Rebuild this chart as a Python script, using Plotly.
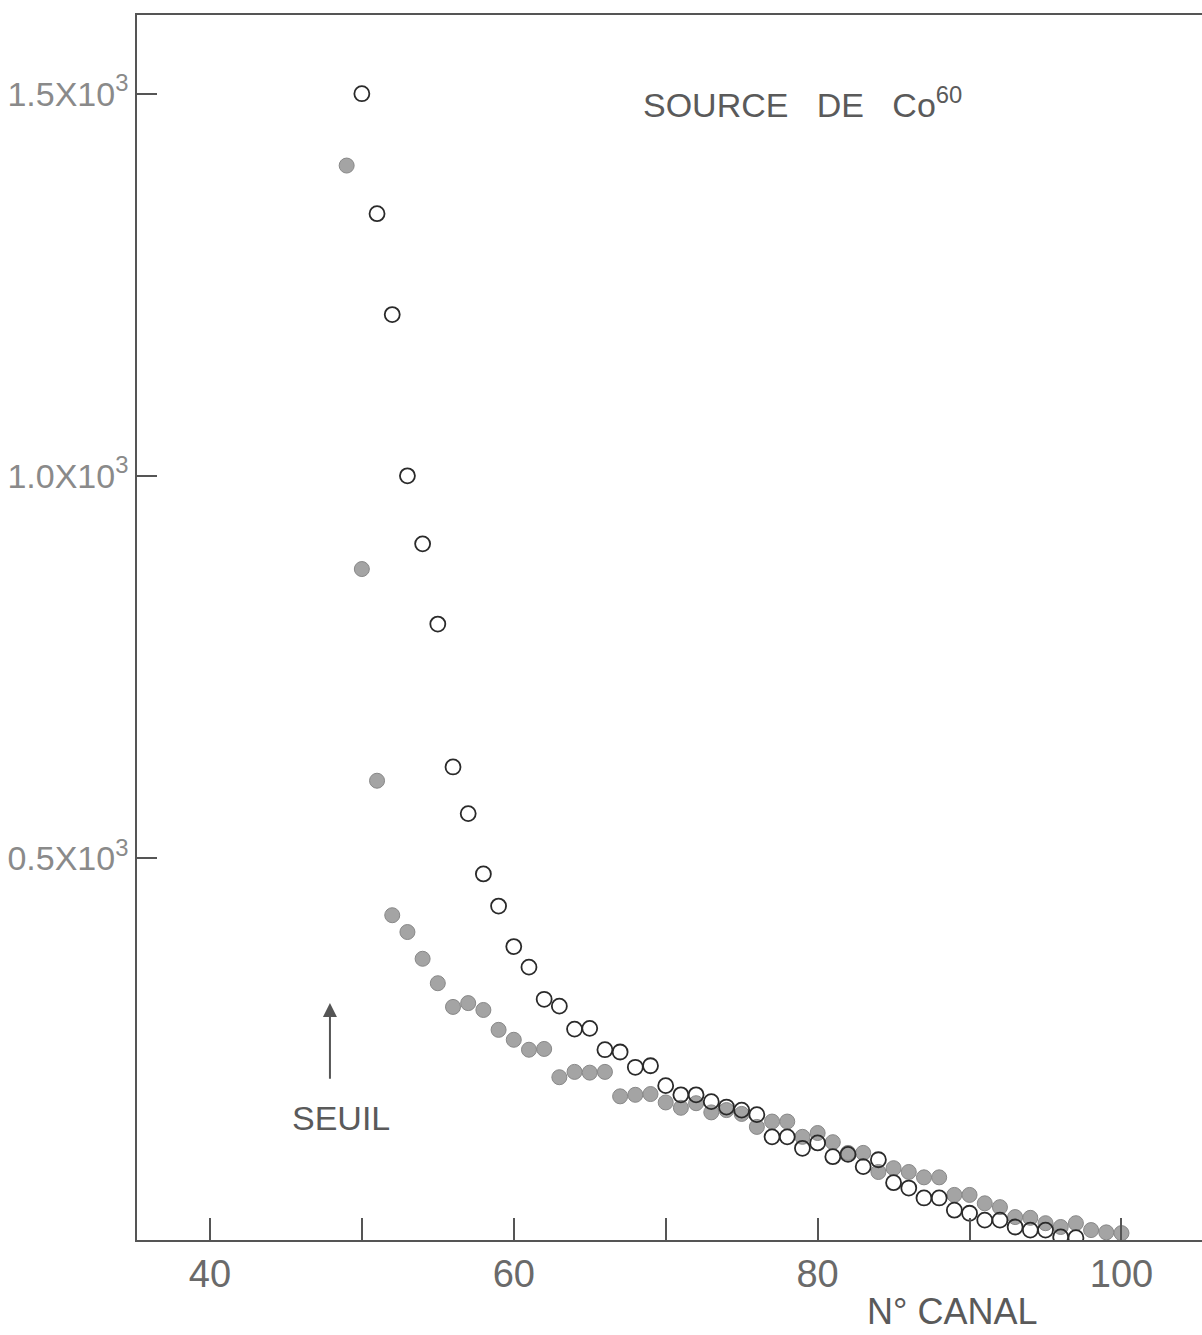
import plotly.graph_objects as go

# Open circles series
open_x = [50, 51, 52, 53, 54, 55, 56, 57, 58, 59, 60, 61, 62, 63, 64, 65, 66, 67, 68, 69,
          70, 71, 72, 73, 74, 75, 76, 77, 78, 79, 80, 81, 82, 83, 84, 85, 86, 87, 88, 89,
          90, 91, 92, 93, 94, 95, 96, 97]
open_y = [1500, 1343, 1211, 1000, 911, 806, 619, 558, 479, 437, 384, 357, 315, 306, 276, 277, 249, 246, 226, 228,
          202, 190, 190, 181, 174, 170, 164, 135, 135, 120, 127, 109, 112, 96, 105, 75, 68, 55, 55, 39,
          35, 26, 26, 17, 13, 13, 4, 3]

# Filled (grey) circles series
fill_x = [49, 50, 51, 52, 53, 54, 55, 56, 57, 58, 59, 60, 61, 62, 63, 64, 65, 66, 67, 68,
          69, 70, 71, 72, 73, 74, 75, 76, 77, 78, 79, 80, 81, 82, 83, 84, 85, 86, 87, 88,
          89, 90, 91, 92, 93, 94, 95, 96, 97, 98, 99, 100]
fill_y = [1406, 878, 601, 425, 403, 368, 336, 305, 310, 301, 275, 262, 249, 250, 213, 220, 219, 220, 188, 190,
          191, 180, 173, 179, 167, 170, 165, 148, 155, 155, 135, 140, 128, 114, 114, 89, 94, 89, 82, 82,
          59, 59, 48, 43, 30, 29, 22, 17, 22, 13, 10, 9]

x_tickvals = [40, 50, 60, 70, 80, 90, 100]
x_ticktext = ["40", "", "60", "", "80", "", "100"]
y_tickvals = [500, 1000, 1500]
y_ticktext = ["0.5X10<sup>3</sup>", "1.0X10<sup>3</sup>", "1.5X10<sup>3</sup>"]

font_family = "Liberation Sans"
text_col = "#6a6a6a"
axis_col = "#555555"

fig = go.Figure()
fig.add_trace(go.Scatter(
    x=fill_x, y=fill_y, mode="markers",
    marker=dict(size=15, color="#a4a4a4", line=dict(color="#888888", width=1)),
    showlegend=False, hoverinfo="x+y"))
fig.add_trace(go.Scatter(
    x=open_x, y=open_y, mode="markers",
    marker=dict(size=15, color="rgba(255,255,255,0)", line=dict(color="#2a2a2a", width=1.8)),
    showlegend=False, hoverinfo="x+y"))

fig.add_annotation(x=68.4, y=1488, xref="x", yref="y", xanchor="left", yanchor="middle",
                   text="SOURCE&nbsp;&nbsp;&nbsp;DE&nbsp;&nbsp;&nbsp;Co<sup>60</sup>", showarrow=False,
                   font=dict(family=font_family, size=34, color="#5a5a5a"))
fig.add_annotation(x=47.9, y=310, ax=47.9, ay=209, xref="x", yref="y", axref="x", ayref="y",
                   text="", showarrow=True, arrowhead=2, arrowsize=1.4, arrowwidth=2,
                   arrowcolor="#555555")
fig.add_annotation(x=48.6, y=160, xref="x", yref="y", text="SEUIL", showarrow=False,
                   font=dict(family=font_family, size=34, color="#5a5a5a"))
fig.add_annotation(x=0.765, y=-0.058, xref="paper", yref="paper", text="N° CANAL",
                   showarrow=False, xanchor="center", yanchor="middle",
                   font=dict(family=font_family, size=36, color="#5a5a5a"))

fig.update_xaxes(range=[35.2, 105.3], tickvals=x_tickvals, ticktext=x_ticktext,
                 ticks="inside", ticklen=22, tickwidth=1.5, tickcolor=axis_col,
                 showline=True, linecolor=axis_col, linewidth=1.5, mirror=True,
                 showgrid=False, zeroline=False,
                 tickfont=dict(family=font_family, size=38, color=text_col))
fig.update_yaxes(range=[0, 1603], tickvals=y_tickvals, ticktext=y_ticktext,
                 ticks="inside", ticklen=20, tickwidth=1.5, tickcolor=axis_col,
                 showline=True, linecolor=axis_col, linewidth=1.5,
                 showgrid=False, zeroline=False,
                 tickfont=dict(family=font_family, size=34, color="#8a8a8a"))

fig.update_layout(width=1202, height=1335, margin=dict(l=137, r=0, t=15, b=95),
                  plot_bgcolor="white", paper_bgcolor="white")

fig.write_html("out.html")
